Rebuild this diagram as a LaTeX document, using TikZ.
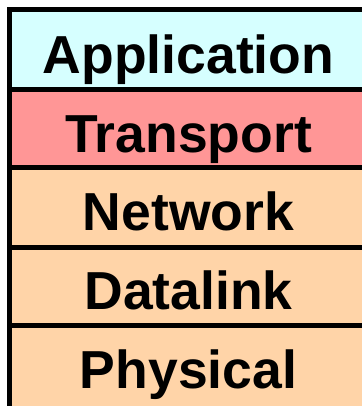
\documentclass[tikz,border=0pt]{standalone}
\usepackage{fontspec}
\setmainfont{Liberation Sans}
\usetikzlibrary{positioning}
\definecolor{appcol}{RGB}{214,255,255}
\definecolor{transcol}{RGB}{255,150,150}
\definecolor{lowcol}{RGB}{255,212,168}
\tikzset{
  layer/.style = {fill=#1, minimum width=358pt, inner sep=0pt, outer sep=0pt,
    text height=50pt, text depth=3pt,
    font=\fontsize{53.5}{60}\selectfont\bfseries},
  edge/.style = {line width=5pt}
}
\begin{document}
\begin{tikzpicture}[x=1pt,y=1pt]

  \useasboundingbox (0,0) rectangle (361,-406);

  \node[layer=appcol, minimum height=80pt, anchor=north west] (app) at (9.5,-10) {Application};
  \node[layer=transcol, minimum height=77.5pt, below=0pt of app] (trans) {Transport};
  \node[layer=lowcol, minimum height=79.5pt, below=0pt of trans] (net) {Network};
  \node[layer=lowcol, minimum height=78.5pt, below=0pt of net] (link) {Datalink};
  \node[layer=lowcol, minimum height=84.5pt, text depth=8.5pt, below=0pt of link] (phys) {Physical};

  \draw[edge] (app.north east) -- (app.north west) -- (phys.south west);
  \draw[edge] (app.south west) -- (app.south east);
  \draw[edge] (trans.south west) -- (trans.south east);
  \draw[edge] (net.south west) -- (net.south east);
  \draw[edge] (link.south west) -- (link.south east);
\end{tikzpicture}
\end{document}
